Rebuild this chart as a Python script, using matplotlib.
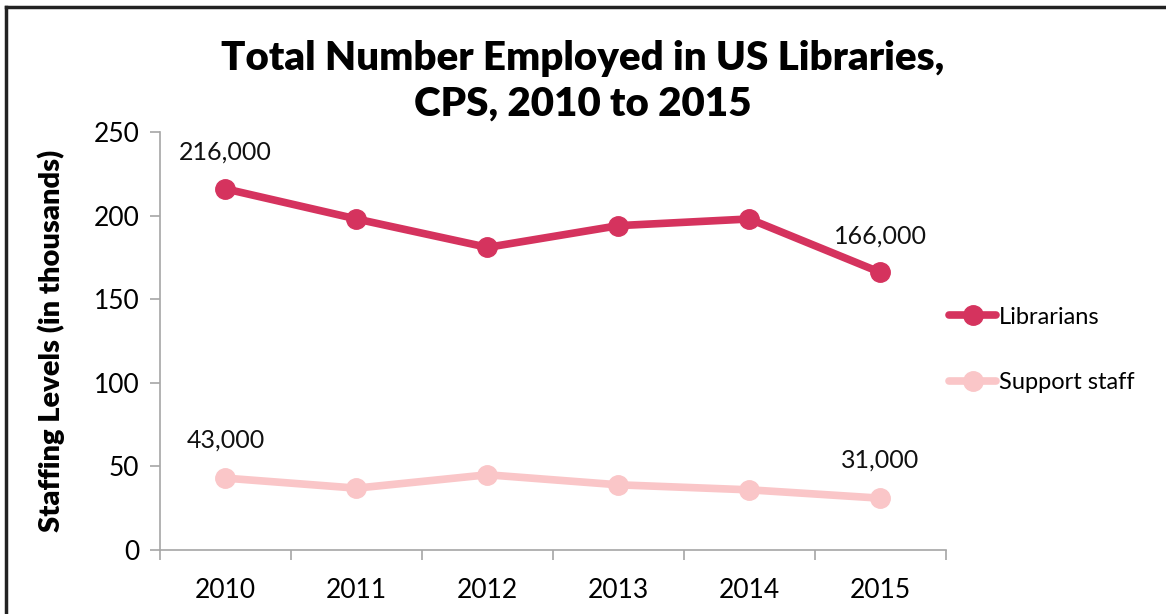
import matplotlib
matplotlib.use("Agg")
import matplotlib.pyplot as plt
from matplotlib.lines import Line2D

# data (thousands)
years = ["2010", "2011", "2012", "2013", "2014", "2015"]
librarians = [216, 198, 181, 194, 198, 166]
support = [43, 37, 45, 39, 36, 31]
lib_labels = {0: "216,000", 5: "166,000"}
sup_labels = {0: "43,000", 5: "31,000"}

plt.rcParams['font.family'] = ['Lato', 'DejaVu Sans']

lib_color = "#D5335E"
sup_color = "#FAC6C8"
axis_gray = "#A6A6A6"

fig = plt.figure(figsize=(11.66, 6.14), dpi=100)
ax = fig.add_axes([0.1372, 0.1042, 0.6741, 0.6808])

x = list(range(len(years)))
ax.plot(x, librarians, color=lib_color, lw=5.5, marker="o", ms=14, label="Librarians",
        solid_capstyle="round")
ax.plot(x, support, color=sup_color, lw=5.5, marker="o", ms=14, label="Support staff",
        solid_capstyle="round")

for i, t in lib_labels.items():
    ax.annotate(t, (x[i], librarians[i]), xytext=(0, 18), textcoords="offset points",
                ha="center", va="bottom", fontsize=18, color="#111111")
for i, t in sup_labels.items():
    ax.annotate(t, (x[i], support[i]), xytext=(0, 19), textcoords="offset points",
                ha="center", va="bottom", fontsize=18, color="#111111")

ax.set_ylim(0, 250)
ax.set_yticks(range(0, 251, 50))
ax.set_xlim(-0.5, len(years) - 0.5)
ax.set_xticks([i - 0.5 for i in range(len(years) + 1)])
ax.set_xticklabels([])
ax.set_xticks(x, minor=True)
ax.set_xticklabels(years, minor=True)
ax.tick_params(axis="x", which="major", length=7, color=axis_gray, width=1.2)
ax.tick_params(axis="x", which="minor", length=0, pad=20, labelsize=19)
ax.tick_params(axis="y", length=7, color=axis_gray, width=1.2, labelsize=19, pad=8)

for s in ["top", "right"]:
    ax.spines[s].set_visible(False)
for s in ["left", "bottom"]:
    ax.spines[s].set_color(axis_gray)
    ax.spines[s].set_linewidth(1.2)

ax.set_ylabel("Staffing Levels (in thousands)", fontsize=21, fontweight="heavy", labelpad=20)

fig.suptitle("Total Number Employed in US Libraries,\nCPS, 2010 to 2015", x=0.5, y=0.935,
             fontsize=29, fontweight="heavy", linespacing=1.3)

fig.legend(loc="center left", bbox_to_anchor=(0.814, 0.43), frameon=False, fontsize=17,
           handlelength=2.0, labelspacing=1.9, handletextpad=0.1,
           borderpad=0, borderaxespad=0)

# frame lines on top and left like the source image
fig.add_artist(Line2D([0.005, 1.0], [0.989, 0.989], transform=fig.transFigure, color="#222222", lw=2.5))
fig.add_artist(Line2D([0.005, 0.005], [0.0, 0.989], transform=fig.transFigure, color="#222222", lw=2.5))

fig.savefig("out.png", dpi=100)
